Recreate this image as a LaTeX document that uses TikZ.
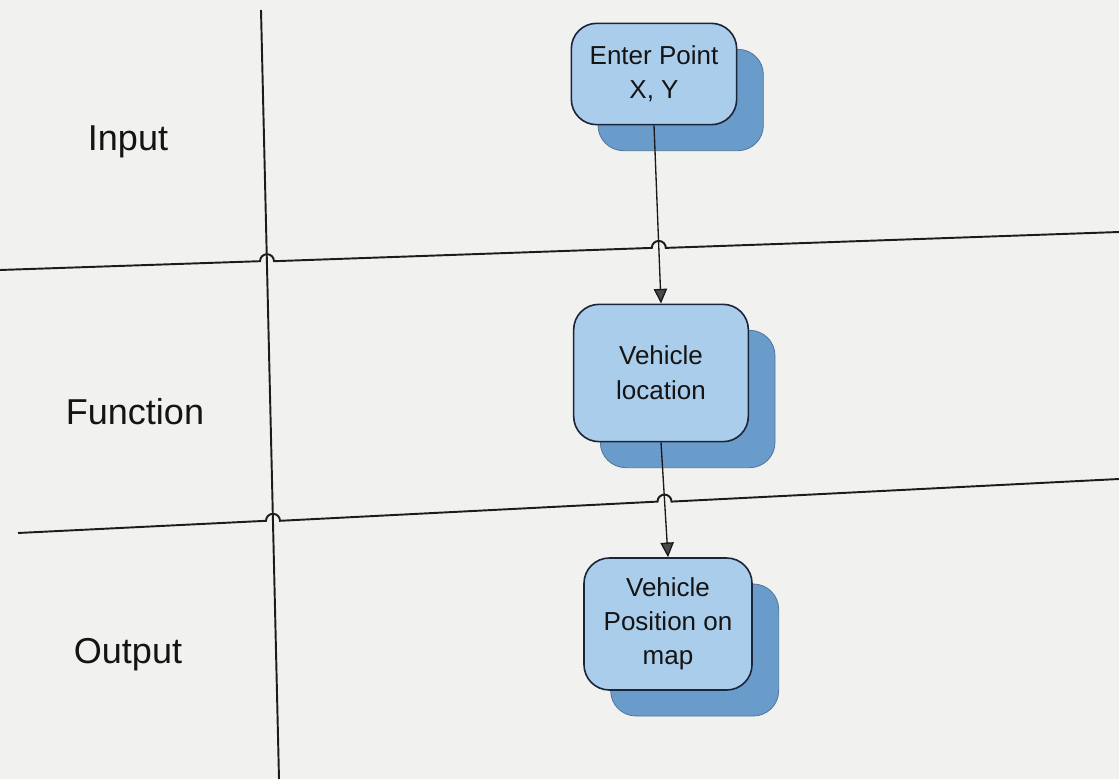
\documentclass[tikz,border=0pt]{standalone}
\usepackage{fontspec}
\setmainfont{Liberation Sans}
\usetikzlibrary{shadows,arrows.meta}

\definecolor{paper}{HTML}{F1F2F0}
\definecolor{boxfill}{HTML}{AACDEB}
\definecolor{boxshade}{HTML}{6A9CCB}
\definecolor{boxline}{HTML}{1B2438}
\definecolor{laneline}{HTML}{1C1C1C}
\definecolor{tipfill}{HTML}{4A4A4A}

\tikzset{
  lane/.style={draw=laneline, line width=1.45pt},
  lanelabel/.style={font=\fontsize{27}{32}\selectfont, text=black!92},
  stepbox/.style={draw=boxline, line width=1.2pt, fill=boxfill,
    rounded corners=19pt, align=center, inner sep=2pt,
    font=\fontsize{19.5}{25.5}\selectfont, text=black!92,
    copy shadow={shadow xshift=20pt, shadow yshift=-19.5pt,
      fill=boxshade, draw=boxshade!75!black, line width=0.6pt}},
  flow/.style={draw=black!90, line width=1pt,
    -{Triangle[length=11pt,width=10pt,fill=tipfill]}}
}

\begin{document}
\begin{tikzpicture}[x=0.75pt, y=0.75pt]
  % page
  \fill[paper] (0,0) rectangle (1119,779);
  \useasboundingbox (0,0) rectangle (1119,779);

  % lane separator (vertical)
  \draw[lane] (261,769) -- (279,0);

  % lane separators (horizontal) with hops over crossing lines
  \draw[lane] (0,509) -- (260,517.8)
      arc[start angle=180, end angle=0, radius=7]
      -- (651.8,531.1)
      arc[start angle=180, end angle=0, radius=7]
      -- (1119,547);
  \draw[lane] (18,246) -- (266,258.2)
      arc[start angle=180, end angle=0, radius=7]
      -- (657.5,277.4)
      arc[start angle=180, end angle=0, radius=7]
      -- (1119,300);

  % lane titles
  \node[lanelabel] (lin)  at (128,637) {Input};
  \node[lanelabel] (lfun) at (135,367) {Function};
  \node[lanelabel] (lout) at (128,124) {Output};

  % process steps
  \node[stepbox, minimum width=124pt, minimum height=76pt] (n1) at (654,705)
    {Enter Point\\X, Y};
  \node[stepbox, minimum width=131pt, minimum height=103pt,
        font=\fontsize{19.5}{26.5}\selectfont] (n2) at (661,406)
    {Vehicle\\location};
  \node[stepbox, minimum width=126pt, minimum height=99pt] (n3) at (668,155)
    {Vehicle\\Position on\\map};

  % flow
  \draw[flow] (n1.south) -- (n2.north);
  \draw[flow] (n2.south) -- (n3.north);
\end{tikzpicture}
\end{document}
